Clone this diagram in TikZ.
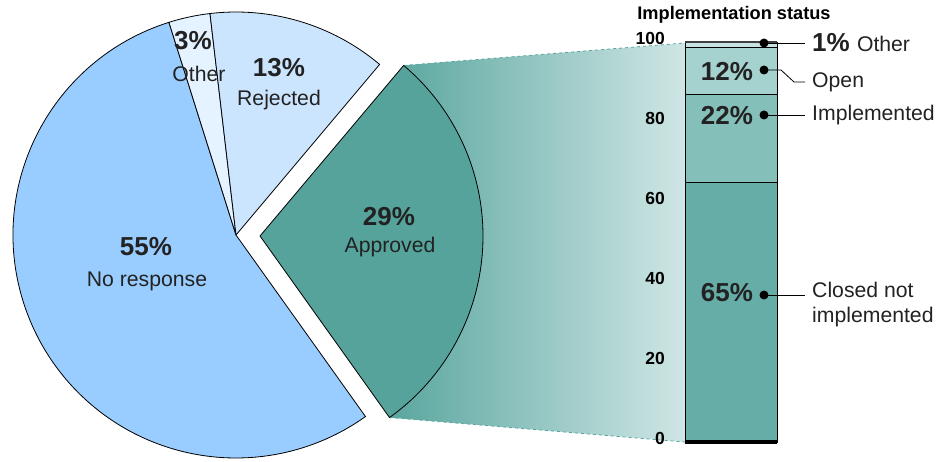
\documentclass[tikz,border=0pt]{standalone}
\usepackage{fontspec}
\setmainfont{Liberation Sans}
\usetikzlibrary{calc}
\definecolor{noresp}{HTML}{99CCFF}
\definecolor{rej}{HTML}{CCE5FF}
\definecolor{othp}{HTML}{E5F2FF}
\definecolor{appr}{HTML}{55A39B}
\definecolor{closedc}{HTML}{66ADA8}
\definecolor{implc}{HTML}{85BFBA}
\definecolor{openc}{HTML}{A5D1CE}
\definecolor{othc}{HTML}{C6E3E1}
\definecolor{txt}{HTML}{222222}
\definecolor{gradL}{HTML}{5AA69F}
\definecolor{gradR}{HTML}{CFE6E5}
\definecolor{dashc}{HTML}{5AA69F}
\begin{document}
\begin{tikzpicture}[x=1pt,y=1pt,
  slice/.style={draw=black, line width=0.8pt, line join=round},
  pct/.style={font=\fontsize{26}{29}\selectfont\bfseries, text=txt, inner sep=0pt},
  lbl/.style={font=\fontsize{21.2}{25}\selectfont, text=txt, inner sep=0pt},
  tick/.style={font=\fontsize{17.5}{20}\selectfont\bfseries, text=black, anchor=east, inner sep=0pt},
  leader/.style={draw=black, line width=0.8pt},
  dotm/.style={fill=black}]
\useasboundingbox (0,0) rectangle (949,461);
\coordinate (c) at (236,226);
\coordinate (ca) at (260,225);
% gradient connector
\path (ca) ++(49.9:223) coordinate (at);
\path (ca) ++(-54.5:223) coordinate (ab);
\coordinate (btl) at (685,418);
\coordinate (bbl) at (685,19);
\shade[left color=gradL, right color=gradR] (at) arc[start angle=49.9, end angle=-54.5, radius=223] -- (bbl) -- (btl) -- cycle;
\draw[dashc, dashed, line width=0.8pt] (at) -- (btl);
\draw[dashc, dashed, line width=0.8pt] (ab) -- (bbl);
% pie
\filldraw[slice, fill=noresp] (c) -- ++(107.5:223) arc[start angle=107.5, end angle=305.5, radius=223] -- cycle;
\filldraw[slice, fill=othp] (c) -- ++(96.7:223) arc[start angle=96.7, end angle=107.5, radius=223] -- cycle;
\filldraw[slice, fill=rej] (c) -- ++(49.9:223) arc[start angle=49.9, end angle=96.7, radius=223] -- cycle;
\filldraw[slice, fill=appr] (ca) -- (ab) arc[start angle=-54.5, end angle=49.9, radius=223] -- cycle;
% pie labels
\node[pct] (p55) at (146,214) {55\%};
\node[lbl] (l55) at (147,180) {No response};
\node[pct] (p3) at (193,420) {3\%};
\node[lbl] (l3) at (199,387) {Other};
\node[pct] (p13) at (279,393) {13\%};
\node[lbl] (l13) at (279,361) {Rejected};
\node[pct] (p29) at (389,244) {29\%};
\node[lbl] (l29) at (390,214) {Approved};
% bar
\filldraw[slice, fill=closedc] (685,19) rectangle (777,278.4);
\filldraw[slice, fill=implc] (685,278.4) rectangle (777,366.1);
\filldraw[slice, fill=openc] (685,366.1) rectangle (777,414.0);
\filldraw[slice, fill=othc] (685,414.0) rectangle (777,418.5);
\draw[line width=2pt, draw=black!75] (685,418.5) -- (777,418.5);
\draw[line width=3.5pt, draw=black] (685,19) -- (777,19);
% ticks
\foreach \v in {0,20,40,60,80,100} {\node[tick] (t\v) at (665,{23+4*\v}) {\v};}
\node[font=\fontsize{18.2}{21}\selectfont\bfseries, inner sep=0pt] (title) at (734,446) {Implementation status};
% bar labels
\node[pct] (b12) at (727,389) {12\%};
\node[pct] (b22) at (727,345) {22\%};
\node[pct] (b65) at (727,168) {65\%};
\coordinate (d1) at (764,418);
\coordinate (d12) at (764,391);
\coordinate (d22) at (764,346);
\coordinate (d65) at (764,166);
\foreach \d in {d1,d12,d22,d65} {\fill[dotm] (\d) circle (4.5);}
\coordinate (e1) at (805,418);
\coordinate (k12a) at (781,391);
\coordinate (k12b) at (794,379);
\coordinate (e12) at (805,379);
\coordinate (e22) at (805,346);
\coordinate (e65) at (805,166);
\draw[leader] (d1) -- (e1);
\draw[leader] (d12) -- (k12a) -- (k12b) -- (e12);
\draw[leader] (d22) -- (e22);
\draw[leader] (d65) -- (e65);
\node[anchor=west, inner sep=0pt, text=txt] (o1) at (812,418) {\fontsize{26}{29}\selectfont\bfseries 1\%\ \fontsize{21.2}{25}\selectfont\mdseries Other};
\node[lbl, anchor=west] (oopen) at (812,379) {Open};
\node[lbl, anchor=west] (oimpl) at (812,346) {Implemented};
\node[lbl, anchor=north west, align=left] (oclosed) at (812,179) {Closed not\\implemented};
\end{tikzpicture}
\end{document}
